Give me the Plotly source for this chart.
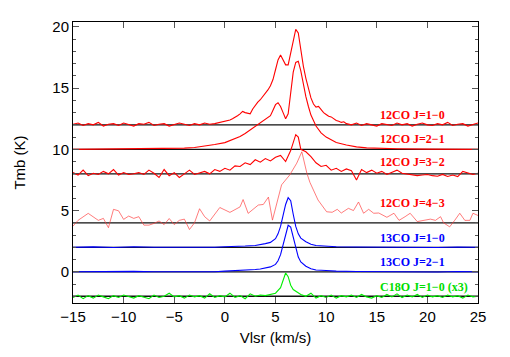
import plotly.graph_objects as go

# ---- 12CO J=1-0 (baseline 12) ----
v_12co10 = [-15, -14.5, -14, -13.5, -13, -12.5, -12, -11.5, -11, -10.5, -10, -9.5, -9, -8.5, -8, -7.5, -7, -6.5, -6, -5.5,
            -5, -4.5, -4, -3.5, -3, -2.5, -2, -1.5, -1, -0.5,
            0, 0.25, 0.5, 0.75, 1, 1.25, 1.5, 1.75, 2, 2.25, 2.5, 2.75, 3, 3.25, 3.5, 3.75, 4, 4.25, 4.5, 4.75,
            5, 5.25, 5.5, 5.75, 6, 6.25, 6.5, 6.75, 7, 7.25, 7.5, 7.75, 8, 8.25, 8.5, 8.75, 9, 9.25, 9.5, 9.75,
            10, 10.25, 10.5, 10.75, 11, 11.25, 11.5, 11.75, 12,
            12.5, 13, 13.5, 14, 14.5, 15, 15.5, 16, 16.5, 17, 17.5, 18, 18.5, 19, 19.5, 20, 20.5, 21, 21.5, 22,
            22.5, 23, 23.5, 24, 24.5, 25]
t_12co10 = [12.05, 12.15, 11.95, 12.1, 12.0, 12.2, 11.9, 12.05, 12.1, 11.95, 12.15, 12.0, 11.9, 12.1, 12.05, 12.2, 11.95, 12.05, 12.1, 11.9,
            12.0, 12.15, 12.05, 11.95, 12.1, 12.0, 12.15, 12.05, 12.1, 12.2,
            12.25, 12.3, 12.4, 12.5, 12.6, 12.75, 12.9, 13.1, 13.0, 12.95, 12.9, 13.3, 13.6, 13.85, 14.05, 14.3, 14.6, 14.85, 15.2, 15.7,
            16.5, 17.3, 17.7, 17.3, 16.9, 16.9, 17.9, 19.0, 19.8, 19.5, 18.0, 16.8, 15.8, 14.9, 14.2, 13.7, 13.45, 13.5, 13.2, 13.0,
            12.85, 12.7, 12.65, 12.5, 12.35, 12.3, 12.2, 12.25, 12.1,
            12.0, 12.15, 11.95, 12.1, 12.0, 11.9, 12.1, 12.05, 11.95, 12.15, 12.0, 12.1, 11.9, 12.05, 12.15, 12.0, 11.95, 12.1, 12.0, 12.2,
            11.95, 12.05, 12.1, 11.9, 12.05, 12.15]

# ---- 12CO J=2-1 (baseline 10) ----
v_12co21 = [-15, -12, -9, -6, -4, -3, -2, -1, 0, 0.5, 1, 1.5, 2, 2.5, 3, 3.5, 4, 4.5, 4.75, 5, 5.25, 5.5, 5.75, 6,
            6.25, 6.5, 6.75, 7, 7.25, 7.5, 7.75, 8, 8.25, 8.5, 9, 9.5, 10, 10.5, 11, 12, 13, 14, 15, 17, 20, 25]
t_12co21 = [10.0, 10.02, 10.03, 10.05, 10.1, 10.15, 10.25, 10.4, 10.55, 10.7, 10.85, 11.05, 11.3, 11.6, 11.9, 12.2, 12.45, 12.75, 13.2, 13.65, 13.8, 13.5, 13.0, 12.5,
            12.9, 14.5, 16.3, 17.1, 17.2, 16.4, 15.3, 14.3, 13.5, 12.8, 11.9, 11.35, 11.0, 10.75, 10.55, 10.35, 10.2, 10.12, 10.08, 10.05, 10.02, 10.0]

# ---- 12CO J=3-2 (baseline 8) ----
v_12co32 = [-15, -14.5, -14, -13.5, -13, -12.5, -12, -11.5, -11, -10.5, -10, -9.5, -9, -8.5, -8, -7.5, -7, -6.5, -6, -5.5,
            -5, -4.5, -4, -3.5, -3, -2.5, -2, -1.5, -1, -0.5, 0, 0.5, 1, 1.5, 2, 2.5, 3, 3.5, 4, 4.5,
            5, 5.5, 6, 6.5, 6.75, 7, 7.25, 7.5, 8, 8.5, 9, 9.5, 10, 10.5, 11, 11.5, 12, 12.5, 13, 13.5,
            14, 14.5, 15, 15.5, 16, 16.5, 17, 17.5, 18, 18.5, 19, 19.5, 20, 20.5, 21, 21.5, 22, 22.5, 23, 23.5,
            24, 24.5, 25]
t_12co32 = [8.1, 7.9, 8.3, 7.85, 8.05, 7.95, 8.2, 8.0, 8.35, 7.9, 8.1, 7.95, 8.0, 8.1, 7.95, 8.3, 8.05, 7.7, 8.35, 7.85,
            8.1, 7.7, 8.0, 8.3, 7.95, 8.05, 8.2, 8.0, 8.35, 8.2, 8.45, 8.3, 8.65, 8.6, 8.9, 8.75, 9.15, 8.95, 9.25, 9.05,
            9.35, 9.5, 9.0, 9.9, 10.5, 11.2, 11.0, 10.0, 9.8, 9.4, 8.9, 8.6, 8.7, 8.3, 8.45, 8.2, 8.4, 8.25, 7.5, 8.35,
            8.1, 8.3, 8.05, 8.2, 7.95, 8.1, 8.3, 8.05, 8.0, 7.9, 7.85, 7.9, 7.95, 7.85, 7.8, 7.95, 7.78, 7.9, 7.78, 8.2,
            8.05, 7.95, 8.05]

# ---- 12CO J=4-3 (baseline 4) ----
v_12co43 = [-15, -14.5, -13.5, -12.5, -12, -11.5, -11, -10.5, -10, -9.5, -9, -8.5, -8, -7.5, -7, -6.5, -6, -5.5, -5, -4.5,
            -4, -3.5, -3, -2.5, -2, -1.5, -0.5, 0.5, 1.5, 1.8, 2.3, 3.3, 3.8, 4.3, 4.7, 5.6, 6.4, 7.1, 7.6, 8.1,
            8.4, 9.2, 10.05, 10.6, 11.1, 11.5, 12.2, 12.7, 13.2, 13.7, 14.2, 14.7, 15.2, 16.0, 16.7, 17.2, 17.8, 18.3, 19.0, 19.6,
            20.3, 20.8, 21.3, 21.6, 22.2, 22.7, 23.2, 23.7, 24.2, 24.5, 25]
t_12co43 = [3.73, 4.2, 4.77, 4.2, 4.36, 3.6, 5.1, 4.98, 4.28, 4.55, 4.36, 4.5, 3.81, 3.81, 3.95, 4.15, 3.85, 4.35, 3.85, 4.2,
            4.3, 3.45, 4.0, 5.15, 4.5, 4.15, 5.25, 4.85, 5.3, 5.9, 4.77, 5.45, 5.5, 6.1, 4.22, 7.1, 7.9, 8.87, 9.8, 8.05,
            7.3, 5.86, 4.9, 4.86, 5.1, 4.8, 5.18, 5.0, 5.7, 4.78, 5.1, 4.78, 4.8, 4.45, 4.78, 4.2, 4.5, 4.78, 4.1, 4.2,
            4.3, 4.2, 4.5, 4.0, 3.67, 4.2, 4.78, 4.2, 4.2, 4.78, 4.6]

# ---- 13CO J=1-0 (baseline 2) and J=2-1 (baseline 0) ----
v_13co = [-15, -13, -11, -9, -7, -5, -3, -1, 0, 1, 2, 3, 3.5, 4, 4.5, 5, 5.25, 5.5, 5.75, 6, 6.25, 6.5, 6.75, 7,
          7.25, 7.5, 8, 8.5, 9, 10, 11, 13, 15, 17, 19, 21, 23, 25]
t_13co10 = [2.0, 2.03, 1.98, 2.05, 2.0, 1.98, 2.02, 2.0, 2.05, 2.05, 2.1, 2.15, 2.2, 2.3, 2.4, 2.7, 3.1, 3.7, 4.6, 5.5, 6.05, 5.8, 4.7, 3.7,
            3.1, 2.75, 2.45, 2.25, 2.15, 2.1, 2.05, 2.02, 2.0, 2.03, 2.0, 1.98, 2.02, 2.0]
t_13co21 = [0.0, 0.02, -0.02, 0.03, 0.0, -0.02, 0.02, 0.0, 0.05, 0.08, 0.12, 0.18, 0.22, 0.3, 0.4, 0.6, 0.9, 1.4, 2.2, 3.1, 3.8, 3.65, 2.8, 1.85,
            1.2, 0.8, 0.45, 0.25, 0.15, 0.1, 0.05, 0.02, 0.0, 0.02, 0.0, -0.02, 0.02, 0.0]

# ---- C18O J=1-0 x3 (baseline -2) ----
v_c18o = [-15, -14.5, -14, -13.5, -13, -12.5, -12, -11.5, -11, -10.5, -10, -9.5, -9, -8.5, -8, -7.5, -7, -6.5, -6, -5.5,
          -5, -4.5, -4, -3.5, -3, -2.5, -2, -1.5, -1, -0.5, 0, 0.5, 1, 1.5, 2, 2.5, 3, 3.5, 4, 4.5,
          5, 5.5, 5.75, 6, 6.25, 6.5, 6.75, 7, 7.5, 8, 8.5, 9, 9.5, 10, 10.5, 11, 11.5, 12, 12.5, 13,
          13.5, 14, 14.5, 15, 15.5, 16, 16.5, 17, 17.5, 18, 18.5, 19, 19.5, 20, 20.5, 21, 21.5, 22, 22.5, 23,
          23.5, 24, 24.5, 25]
t_c18o = [-2.1, -1.9, -2.2, -1.95, -2.15, -1.9, -2.05, -2.2, -1.95, -2.1, -1.9, -2.05, -2.15, -1.95, -2.05, -2.2, -1.9, -2.1, -2.0, -1.75,
          -2.05, -1.95, -2.15, -1.9, -2.05, -1.95, -2.15, -1.8, -2.1, -1.95, -2.05, -1.75, -2.1, -1.95, -2.2, -1.8, -2.0, -1.9, -1.95, -1.85,
          -1.75, -1.3, -0.6, -0.1, -0.4, -1.1, -1.45, -1.6, -1.85, -2.0, -1.75, -2.15, -1.95, -2.1, -1.9, -2.15, -1.95, -2.05, -1.9, -2.1,
          -1.85, -2.05, -2.15, -1.95, -2.1, -1.85, -2.05, -1.8, -2.1, -1.9, -2.05, -1.85, -2.1, -1.9, -2.05, -1.95, -2.1, -1.9, -2.05, -1.95,
          -2.15, -1.9, -2.05, -2.0]

baselines = [12, 10, 8, 4, 2, 0, -2]
labels = ["12CO J=1\u22120", "12CO J=2\u22121", "12CO J=3\u22122", "12CO J=4\u22123",
          "13CO J=1\u22120", "13CO J=2\u22121", "C18O J=1\u22120 (x3)"]
label_y = [12.8, 10.85, 9.0, 5.65, 2.75, 0.8, -1.27]
label_colors = ["#ff0000", "#ff0000", "#ff0000", "#ff0000", "#0000ff", "#0000ff", "#00dd00"]

fig = go.Figure()
for b in baselines:
    fig.add_trace(go.Scatter(x=[-15, 25], y=[b, b], mode="lines",
                             line=dict(color="#111111", width=1.3), hoverinfo="skip"))

series = [
    (v_12co10, t_12co10, "#ff0000", 1.1),
    (v_12co21, t_12co21, "#ff0000", 1.1),
    (v_12co32, t_12co32, "#ff0000", 1.1),
    (v_12co43, t_12co43, "rgba(255,60,60,0.75)", 0.9),
    (v_13co, t_13co10, "#0000ff", 1.1),
    (v_13co, t_13co21, "#0000ff", 1.1),
    (v_c18o, t_c18o, "#00ee00", 1.1),
]
for vx, ty, c, w in series:
    fig.add_trace(go.Scatter(x=vx, y=ty, mode="lines", line=dict(color=c, width=w)))

for txt, yy, c in zip(labels, label_y, label_colors):
    fig.add_annotation(x=15.1, y=yy, text="<b>" + txt + "</b>", showarrow=False,
                       xanchor="left", yanchor="middle",
                       font=dict(family="Liberation Serif, Times New Roman, serif", size=12, color=c))

axis_common = dict(showline=True, linecolor="black", linewidth=1, mirror="allticks",
                   ticks="inside", tickcolor="#555", showgrid=False, zeroline=False,
                   tickfont=dict(size=15, color="black"))
fig.update_xaxes(range=[-15, 25], tickmode="linear", tick0=-15, dtick=5, ticklen=6,
                 title=dict(text="Vlsr (km/s)", font=dict(size=15, color="black"), standoff=8),
                 **axis_common)
fig.update_yaxes(range=[-2.55, 20.4], tickmode="linear", tick0=0, dtick=5, ticklen=6,
                 minor=dict(ticks="inside", dtick=1, ticklen=3, tickcolor="#555"),
                 title=dict(text="Tmb (K)", font=dict(size=15, color="black"), standoff=23),
                 **axis_common)
fig.update_layout(width=510, height=357, margin=dict(l=65, r=40, t=14, b=62, autoexpand=False),
                  plot_bgcolor="white", paper_bgcolor="white", showlegend=False,
                  font=dict(family="Liberation Sans, Arial, sans-serif"))
fig.write_html("out.html")
